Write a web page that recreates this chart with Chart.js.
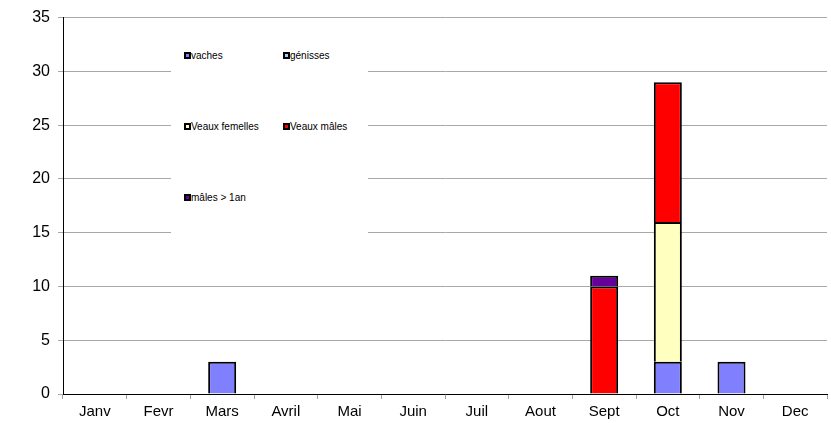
<!DOCTYPE html>
<html>
<head>
<meta charset="utf-8">
<script src="https://cdn.jsdelivr.net/npm/chart.js@4/dist/chart.umd.min.js"></script>
<style>
body { margin: 0; background: #fff; }
#wrap { position: relative; width: 831px; height: 423px; }
#legende { position: absolute; left: 171px; top: 40px; width: 197px; height: 198px; background: #fff;
  font-family: "Liberation Sans", Arial, sans-serif; font-size: 10px; color: #000; }
.item { position: absolute; white-space: nowrap; line-height: 10px; }
.item span.m { display: inline-block; width: 3px; height: 3px; border: 2px solid #000; vertical-align: 0px; }
</style>
</head>
<body>
<div id="wrap">
<canvas id="graphique" width="831" height="423"></canvas>
<div id="legende"></div>
</div>
<script>
const mois = ['Janv', 'Fevr', 'Mars', 'Avril', 'Mai', 'Juin', 'Juil', 'Aout', 'Sept', 'Oct', 'Nov', 'Dec']
const vaches = [0, 0, 3, 0, 0, 0, 0, 0, 0, 3, 3, 0]
const genisses = [0, 0, 0, 0, 0, 0, 0, 0, 0, 0, 0, 0]
const veauxFemelles = [0, 0, 0, 0, 0, 0, 0, 0, 0, 13, 0, 0]
const veauxMales = [0, 0, 0, 0, 0, 0, 0, 0, 10, 13, 0, 0]
const malesPlus1an = [0, 0, 0, 0, 0, 0, 0, 0, 1, 0, 0, 0]

const series = [
	{ label: 'vaches', data: vaches, couleur: '#8080FF' },
	{ label: 'génisses', data: genisses, couleur: '#99CCFF' },
	{ label: 'Veaux femelles', data: veauxFemelles, couleur: '#FFFFC0' },
	{ label: 'Veaux mâles', data: veauxMales, couleur: '#FF0000' },
	{ label: 'mâles > 1an', data: malesPlus1an, couleur: '#660099' }
]

// pas de barre pour les zeros
function sansZero(arr) { return arr.map(v => v === 0 ? null : v) }

var grafico = document.getElementById('graphique').getContext('2d');
new Chart(grafico, {
	type: 'bar',
	data: {
		labels: mois,
		datasets: series.map(s => ({
			label: s.label,
			data: sansZero(s.data),
			backgroundColor: s.couleur,
			borderColor: '#000',
			borderWidth: { top: 2, left: 2, right: 2, bottom: 0 },
			borderSkipped: false,
			barPercentage: 0.44,
			categoryPercentage: 1
		}))
	},
	options: {
		responsive: false,
		animation: false,
		layout: { padding: { left: 0, right: 4, top: 14, bottom: 0 } },
		plugins: { legend: { display: false }, tooltip: { enabled: false } },
		scales: {
			x: {
				stacked: true,
				afterFit: (s) => { s.height = 29 },
				grid: { offset: true, drawOnChartArea: false, color: '#a0a0a0', tickLength: 5 },
				border: { color: '#000', width: 1 },
				ticks: { color: '#000', font: { family: 'Liberation Sans', size: 15 }, padding: 4 }
			},
			y: {
				stacked: true,
				min: 0, max: 35,
				afterFit: (s) => { s.width = 63 },
				grid: { color: '#a8a8a8', tickLength: 5 },
				border: { color: '#000', width: 1 },
				ticks: { stepSize: 5, color: '#000', font: { family: 'Liberation Sans', size: 16 }, padding: 8 }
			}
		}
	}
});

// legende maison dans le cadre blanc
const positions = [[13, 11], [112, 11], [13, 82], [112, 82], [13, 153]]
const leg = document.getElementById('legende')
series.forEach((s, i) => {
	const d = document.createElement('div')
	d.className = 'item'
	d.style.left = positions[i][0] + 'px'
	d.style.top = positions[i][1] + 'px'
	d.innerHTML = '<span class="m" style="background:' + s.couleur + '"></span>' + s.label
	leg.appendChild(d)
})
</script>
</body>
</html>
